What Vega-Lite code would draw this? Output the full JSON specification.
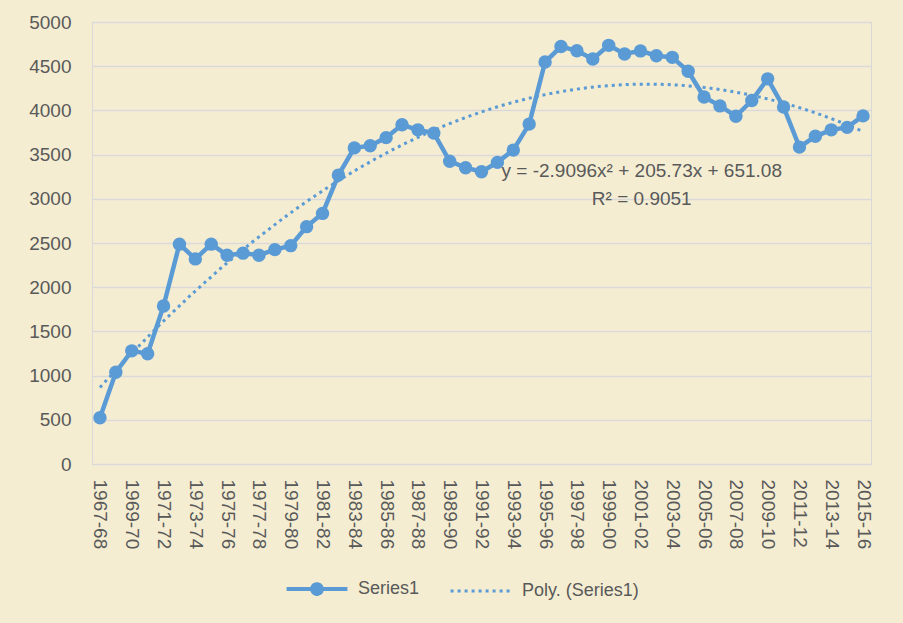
{
  "$schema": "https://vega.github.io/schema/vega-lite/v6.json",
  "width": 779,
  "height": 442,
  "autosize": {"type": "none"},
  "padding": {"left": 92, "top": 22, "right": 32, "bottom": 159},
  "background": "#F4EDD2",
  "config": {
    "font": "Liberation Sans",
    "view": {"stroke": "#D9D9D9", "strokeWidth": 1},
    "axis": {"labelColor": "#595959", "labelFont": "Liberation Sans", "labelFontSize": 19, "ticks": false, "tickSize": 0, "domain": false, "title": null},
    "legend": {"labelColor": "#595959", "labelFont": "Liberation Sans", "labelFontSize": 18}
  },
  "data": {
    "values": [
      {"year": "1967-68", "i": 1, "value": 524},
      {"year": "1968-69", "i": 2, "value": 1038},
      {"year": "1969-70", "i": 3, "value": 1280},
      {"year": "1970-71", "i": 4, "value": 1248},
      {"year": "1971-72", "i": 5, "value": 1788},
      {"year": "1972-73", "i": 6, "value": 2487},
      {"year": "1973-74", "i": 7, "value": 2320},
      {"year": "1974-75", "i": 8, "value": 2487},
      {"year": "1975-76", "i": 9, "value": 2362},
      {"year": "1976-77", "i": 10, "value": 2385},
      {"year": "1977-78", "i": 11, "value": 2362},
      {"year": "1978-79", "i": 12, "value": 2425},
      {"year": "1979-80", "i": 13, "value": 2470},
      {"year": "1980-81", "i": 14, "value": 2685},
      {"year": "1981-82", "i": 15, "value": 2835},
      {"year": "1982-83", "i": 16, "value": 3268},
      {"year": "1983-84", "i": 17, "value": 3576},
      {"year": "1984-85", "i": 18, "value": 3600},
      {"year": "1985-86", "i": 19, "value": 3692},
      {"year": "1986-87", "i": 20, "value": 3837},
      {"year": "1987-88", "i": 21, "value": 3780},
      {"year": "1988-89", "i": 22, "value": 3743},
      {"year": "1989-90", "i": 23, "value": 3424},
      {"year": "1990-91", "i": 24, "value": 3352},
      {"year": "1991-92", "i": 25, "value": 3306},
      {"year": "1992-93", "i": 26, "value": 3412},
      {"year": "1993-94", "i": 27, "value": 3551},
      {"year": "1994-95", "i": 28, "value": 3845},
      {"year": "1995-96", "i": 29, "value": 4547},
      {"year": "1996-97", "i": 30, "value": 4722},
      {"year": "1997-98", "i": 31, "value": 4674},
      {"year": "1998-99", "i": 32, "value": 4581},
      {"year": "1999-00", "i": 33, "value": 4736},
      {"year": "2000-01", "i": 34, "value": 4638},
      {"year": "2001-02", "i": 35, "value": 4673},
      {"year": "2002-03", "i": 36, "value": 4618},
      {"year": "2003-04", "i": 37, "value": 4600},
      {"year": "2004-05", "i": 38, "value": 4443},
      {"year": "2005-06", "i": 39, "value": 4151},
      {"year": "2006-07", "i": 40, "value": 4051},
      {"year": "2007-08", "i": 41, "value": 3934},
      {"year": "2008-09", "i": 42, "value": 4112},
      {"year": "2009-10", "i": 43, "value": 4357},
      {"year": "2010-11", "i": 44, "value": 4038},
      {"year": "2011-12", "i": 45, "value": 3585},
      {"year": "2012-13", "i": 46, "value": 3707},
      {"year": "2013-14", "i": 47, "value": 3780},
      {"year": "2014-15", "i": 48, "value": 3808},
      {"year": "2015-16", "i": 49, "value": 3938}
    ]
  },
  "layer": [
    {
      "mark": {"type": "line", "strokeWidth": 4.5, "point": {"filled": true, "size": 180, "opacity": 1}},
      "encoding": {
        "x": {
          "field": "year", "type": "ordinal", "sort": null,
          "scale": {"type": "point", "padding": 0.5},
          "axis": {
            "labelAngle": 90, "labelAlign": "left", "labelBaseline": "middle", "labelPadding": 15, "grid": false,
            "values": ["1967-68","1969-70","1971-72","1973-74","1975-76","1977-78","1979-80","1981-82","1983-84","1985-86","1987-88","1989-90","1991-92","1993-94","1995-96","1997-98","1999-00","2001-02","2003-04","2005-06","2007-08","2009-10","2011-12","2013-14","2015-16"]
          }
        },
        "y": {
          "field": "value", "type": "quantitative",
          "scale": {"domain": [0, 5000], "nice": false},
          "axis": {"values": [0,500,1000,1500,2000,2500,3000,3500,4000,4500,5000], "format": "d", "gridColor": "#D9D9D9", "gridWidth": 1.5, "labelPadding": 21}
        },
        "color": {
          "datum": "Series1",
          "scale": {"domain": ["Series1", "Poly. (Series1)"], "range": ["#5B9BD5", "#5B9BD5"]},
          "legend": {
            "title": null, "orient": "none", "direction": "horizontal", "legendX": 216, "legendY": 558,
            "symbolType": "stroke", "symbolSize": 3700, "symbolStrokeWidth": 4, "labelOffset": 32, "columnPadding": 24,
            "encode": {
              "symbols": {
                "update": {
                  "shape": {"signal": "datum.value === 'Series1' ? 'M-1,0L1,0M0.16,0A0.16,0.16,0,1,1,-0.16,0A0.16,0.16,0,1,1,0.16,0Z' : 'stroke'"},
                  "fill": {"signal": "datum.value === 'Series1' ? '#5B9BD5' : 'transparent'"},
                  "strokeDash": {"signal": "datum.value === 'Series1' ? [1,0] : [3,4]"},
                  "strokeWidth": {"signal": "datum.value === 'Series1' ? 4 : 3"},
                  "stroke": {"value": "#5B9BD5"}
                }
              }
            }
          }
        }
      }
    },
    {
      "transform": [{"regression": "value", "on": "i", "method": "poly", "order": 2}],
      "mark": {"type": "line", "strokeWidth": 3, "strokeDash": [3, 4]},
      "encoding": {
        "x": {"field": "i", "type": "quantitative", "scale": {"domain": [0.5, 49.5], "nice": false, "zero": false}, "axis": null},
        "y": {"field": "value", "type": "quantitative"},
        "color": {"datum": "Poly. (Series1)"}
      }
    },
    {
      "data": {"values": [{"label": "trend equation"}]},
      "mark": {"type": "text", "align": "center", "baseline": "middle", "fontSize": 19, "fontWeight": "normal", "lineHeight": 28, "fill": "#595959"},
      "encoding": {
        "x": {"datum": 35.08, "type": "quantitative", "scale": {"domain": [0.5, 49.5], "nice": false, "zero": false}, "axis": null},
        "y": {"datum": 3317, "type": "quantitative"},
        "text": {"value": ["y = -2.9096x² + 205.73x + 651.08", "R² = 0.9051"]}
      }
    }
  ],
  "resolve": {"scale": {"x": "independent"}, "axis": {"x": "independent"}}
}
